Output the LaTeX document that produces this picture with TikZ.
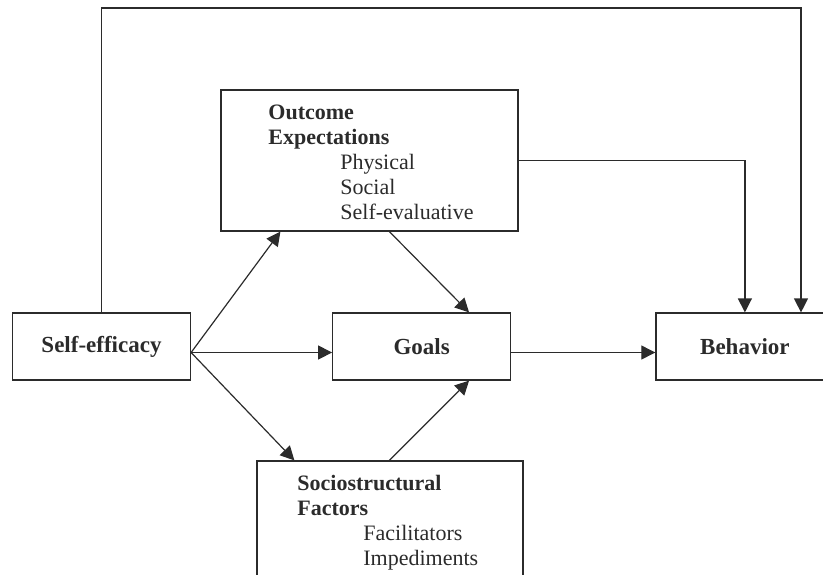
\documentclass[tikz,border=0pt]{standalone}
\usepackage{fontspec}
\setmainfont{Liberation Serif}
\usetikzlibrary{positioning}
\usetikzlibrary{arrows.meta}
\definecolor{ink}{HTML}{2B2B2B}
\tikzset{box node/.style={rectangle,draw=ink,line width=0.6pt,minimum width=89pt,minimum height=33.5pt,inner sep=0pt,font=\fontsize{11.5}{12.5}\selectfont\bfseries,text=ink},
         list node/.style={anchor=north west,align=left,inner sep=0pt,text=ink,font=\fontsize{11}{12.5}\selectfont},
         link/.style={draw=ink,line width=0.6pt,-{Triangle[length=7pt,width=7pt]}},}

\begin{document}
\begin{tikzpicture}[x=0.5pt,y=-0.5pt]
          \clip (0,0) rectangle (823,574);
          \node[box node] (self) at (101.5,346.5) {Self-efficacy};
          \node[box node] (goals) [right = 70.5pt of self] {Goals};
          \node[box node] (behavior) [right = 72pt of goals] {Behavior};
          \node[box node,minimum width=148.5pt,minimum height=70.5pt] (outcome) at (369.5,160.5) {};
          \node[box node,minimum width=133pt,minimum height=70.5pt] (socio) at (390,531.5) {};

          \node[list node] (outtext) at (268,105) {\textbf{Outcome}\\\textbf{Expectations}\\
            \hspace*{36pt}Physical\\\hspace*{36pt}Social\\\hspace*{36pt}Self-evaluative};
          \node[list node] (sociotext) at (297,475) {\textbf{Sociostructural}\\\textbf{Factors}\\
            \hspace*{33pt}Facilitators\\\hspace*{33pt}Impediments};

          \coordinate (fan) at ([yshift=-3pt]self.east);
          \coordinate (loop) at (801,8);

          \path
          (fan) edge[link] ([xshift=30pt]outcome.south west)
          (fan) edge[link] (goals.west |- fan)
          (fan) edge[link] ([xshift=19pt]socio.north west)
          ([xshift=84.5pt]outcome.south west) edge[link] ([xshift=68.5pt]goals.north west)
          ([xshift=66.5pt]socio.north west) edge[link] ([xshift=68.5pt]goals.south west)
          (goals.east |- fan) edge[link] (behavior.west |- fan);
          \draw[link] (outcome.east) -| (behavior.north);
          \draw[link] (self.north) |- (loop) -- (loop |- behavior.north);
        \end{tikzpicture}
\end{document}
